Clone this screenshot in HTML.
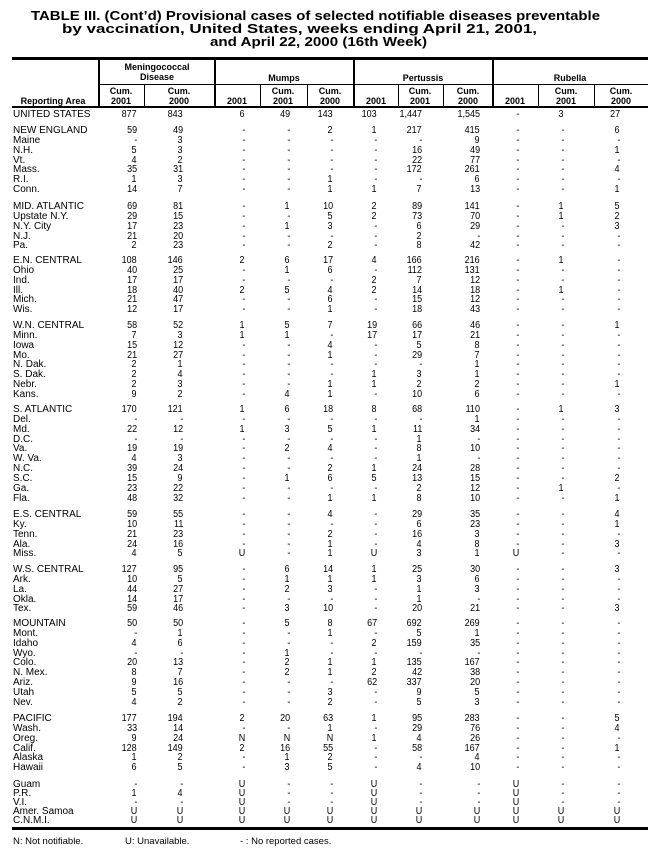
<!DOCTYPE html>
<html><head><meta charset="utf-8"><style>
*{margin:0;padding:0}
body{width:648px;height:851px;background:#fff;position:relative;overflow:hidden;font-family:"Liberation Sans",Arial,sans-serif;color:#000}
.ln{position:absolute;background:#000}
.h{position:absolute;font-weight:bold;font-size:9px;line-height:10px;text-align:center;transform:translateX(-50%);white-space:nowrap}
.r{position:absolute;left:0;width:648px;height:10px;font-size:10px;line-height:10px;white-space:nowrap}
.r span{position:absolute;left:13px;top:0}
.r i{position:absolute;font-style:normal;top:0;display:inline-block;transform:scaleX(0.9);transform-origin:right center}
.r i:nth-of-type(1){right:511px}.r i:nth-of-type(2){right:465px}.r i:nth-of-type(3){right:403px}
.r i:nth-of-type(4){right:358px}.r i:nth-of-type(5){right:315px}.r i:nth-of-type(6){right:271px}
.r i:nth-of-type(7){right:226px}.r i:nth-of-type(8){right:168px}.r i:nth-of-type(9){right:129px}
.r i:nth-of-type(10){right:84px}.r i:nth-of-type(11){right:28px}
.f{position:absolute;top:837px;font-size:9.5px;line-height:10px}
</style></head><body>
<svg width="648" height="56" style="position:absolute;left:0;top:0" font-family="Liberation Sans, Arial, sans-serif" font-weight="bold" font-size="13">
<text x="31" y="20" textLength="569" lengthAdjust="spacingAndGlyphs">TABLE III. (Cont’d) Provisional cases of selected notifiable diseases preventable</text>
<text x="62" y="33" textLength="475" lengthAdjust="spacingAndGlyphs">by vaccination, United States, weeks ending April 21, 2001,</text>
<text x="210" y="46" textLength="217" lengthAdjust="spacingAndGlyphs">and April 22, 2000 (16th Week)</text>
</svg>
<div class="ln" style="left:12px;top:57px;width:636px;height:3px"></div>
<div class="ln" style="left:99px;top:84px;width:549px;height:1px"></div>
<div class="ln" style="left:12px;top:106px;width:636px;height:2px"></div>
<div class="ln" style="left:98px;top:58px;width:2px;height:49px"></div>
<div class="ln" style="left:214px;top:58px;width:2px;height:49px"></div>
<div class="ln" style="left:353px;top:58px;width:2px;height:49px"></div>
<div class="ln" style="left:492px;top:58px;width:2px;height:49px"></div>
<div class="ln" style="left:144px;top:84px;width:1px;height:23px"></div>
<div class="ln" style="left:260px;top:84px;width:1px;height:23px"></div>
<div class="ln" style="left:307px;top:84px;width:1px;height:23px"></div>
<div class="ln" style="left:398px;top:84px;width:1px;height:23px"></div>
<div class="ln" style="left:443px;top:84px;width:1px;height:23px"></div>
<div class="ln" style="left:538px;top:84px;width:1px;height:23px"></div>
<div class="ln" style="left:594px;top:84px;width:1px;height:23px"></div>
<div class="ln" style="left:12px;top:827px;width:636px;height:3px"></div>

<div class="h" style="left:157px;top:62px">Meningococcal<br>Disease</div>
<div class="h" style="left:284px;top:73px">Mumps</div>
<div class="h" style="left:423px;top:73px">Pertussis</div>
<div class="h" style="left:570px;top:73px">Rubella</div>
<div class="h" style="left:53px;top:96px">Reporting Area</div>
<div class="h" style="left:121px;top:86px">Cum.<br>2001</div>
<div class="h" style="left:179px;top:86px">Cum.<br>2000</div>
<div class="h" style="left:237px;top:96px">2001</div>
<div class="h" style="left:283px;top:86px">Cum.<br>2001</div>
<div class="h" style="left:330px;top:86px">Cum.<br>2000</div>
<div class="h" style="left:376px;top:96px">2001</div>
<div class="h" style="left:420px;top:86px">Cum.<br>2001</div>
<div class="h" style="left:468px;top:86px">Cum.<br>2000</div>
<div class="h" style="left:515px;top:96px">2001</div>
<div class="h" style="left:566px;top:86px">Cum.<br>2001</div>
<div class="h" style="left:621px;top:86px">Cum.<br>2000</div>

<div class="r" style="top:110px"><span>UNITED STATES</span><i>877</i><i>843</i><i>6</i><i>49</i><i>143</i><i>103</i><i>1,447</i><i>1,545</i><i>-</i><i>3</i><i>27</i></div>

<div class="r" style="top:126px"><span>NEW ENGLAND</span><i>59</i><i>49</i><i>-</i><i>-</i><i>2</i><i>1</i><i>217</i><i>415</i><i>-</i><i>-</i><i>6</i></div>
<div class="r" style="top:135.9px"><span>Maine</span><i>-</i><i>3</i><i>-</i><i>-</i><i>-</i><i>-</i><i>-</i><i>9</i><i>-</i><i>-</i><i>-</i></div>
<div class="r" style="top:145.7px"><span>N.H.</span><i>5</i><i>3</i><i>-</i><i>-</i><i>-</i><i>-</i><i>16</i><i>49</i><i>-</i><i>-</i><i>1</i></div>
<div class="r" style="top:155.6px"><span>Vt.</span><i>4</i><i>2</i><i>-</i><i>-</i><i>-</i><i>-</i><i>22</i><i>77</i><i>-</i><i>-</i><i>-</i></div>
<div class="r" style="top:165.4px"><span>Mass.</span><i>35</i><i>31</i><i>-</i><i>-</i><i>-</i><i>-</i><i>172</i><i>261</i><i>-</i><i>-</i><i>4</i></div>
<div class="r" style="top:175.3px"><span>R.I.</span><i>1</i><i>3</i><i>-</i><i>-</i><i>1</i><i>-</i><i>-</i><i>6</i><i>-</i><i>-</i><i>-</i></div>
<div class="r" style="top:185.1px"><span>Conn.</span><i>14</i><i>7</i><i>-</i><i>-</i><i>1</i><i>1</i><i>7</i><i>13</i><i>-</i><i>-</i><i>1</i></div>

<div class="r" style="top:202px"><span>MID. ATLANTIC</span><i>69</i><i>81</i><i>-</i><i>1</i><i>10</i><i>2</i><i>89</i><i>141</i><i>-</i><i>1</i><i>5</i></div>
<div class="r" style="top:211.9px"><span>Upstate N.Y.</span><i>29</i><i>15</i><i>-</i><i>-</i><i>5</i><i>2</i><i>73</i><i>70</i><i>-</i><i>1</i><i>2</i></div>
<div class="r" style="top:221.7px"><span>N.Y. City</span><i>17</i><i>23</i><i>-</i><i>1</i><i>3</i><i>-</i><i>6</i><i>29</i><i>-</i><i>-</i><i>3</i></div>
<div class="r" style="top:231.6px"><span>N.J.</span><i>21</i><i>20</i><i>-</i><i>-</i><i>-</i><i>-</i><i>2</i><i>-</i><i>-</i><i>-</i><i>-</i></div>
<div class="r" style="top:241.4px"><span>Pa.</span><i>2</i><i>23</i><i>-</i><i>-</i><i>2</i><i>-</i><i>8</i><i>42</i><i>-</i><i>-</i><i>-</i></div>

<div class="r" style="top:256px"><span>E.N. CENTRAL</span><i>108</i><i>146</i><i>2</i><i>6</i><i>17</i><i>4</i><i>166</i><i>216</i><i>-</i><i>1</i><i>-</i></div>
<div class="r" style="top:265.9px"><span>Ohio</span><i>40</i><i>25</i><i>-</i><i>1</i><i>6</i><i>-</i><i>112</i><i>131</i><i>-</i><i>-</i><i>-</i></div>
<div class="r" style="top:275.7px"><span>Ind.</span><i>17</i><i>17</i><i>-</i><i>-</i><i>-</i><i>2</i><i>7</i><i>12</i><i>-</i><i>-</i><i>-</i></div>
<div class="r" style="top:285.6px"><span>Ill.</span><i>18</i><i>40</i><i>2</i><i>5</i><i>4</i><i>2</i><i>14</i><i>18</i><i>-</i><i>1</i><i>-</i></div>
<div class="r" style="top:295.4px"><span>Mich.</span><i>21</i><i>47</i><i>-</i><i>-</i><i>6</i><i>-</i><i>15</i><i>12</i><i>-</i><i>-</i><i>-</i></div>
<div class="r" style="top:305.3px"><span>Wis.</span><i>12</i><i>17</i><i>-</i><i>-</i><i>1</i><i>-</i><i>18</i><i>43</i><i>-</i><i>-</i><i>-</i></div>

<div class="r" style="top:321px"><span>W.N. CENTRAL</span><i>58</i><i>52</i><i>1</i><i>5</i><i>7</i><i>19</i><i>66</i><i>46</i><i>-</i><i>-</i><i>1</i></div>
<div class="r" style="top:330.9px"><span>Minn.</span><i>7</i><i>3</i><i>1</i><i>1</i><i>-</i><i>17</i><i>17</i><i>21</i><i>-</i><i>-</i><i>-</i></div>
<div class="r" style="top:340.7px"><span>Iowa</span><i>15</i><i>12</i><i>-</i><i>-</i><i>4</i><i>-</i><i>5</i><i>8</i><i>-</i><i>-</i><i>-</i></div>
<div class="r" style="top:350.6px"><span>Mo.</span><i>21</i><i>27</i><i>-</i><i>-</i><i>1</i><i>-</i><i>29</i><i>7</i><i>-</i><i>-</i><i>-</i></div>
<div class="r" style="top:360.4px"><span>N. Dak.</span><i>2</i><i>1</i><i>-</i><i>-</i><i>-</i><i>-</i><i>-</i><i>1</i><i>-</i><i>-</i><i>-</i></div>
<div class="r" style="top:370.3px"><span>S. Dak.</span><i>2</i><i>4</i><i>-</i><i>-</i><i>-</i><i>1</i><i>3</i><i>1</i><i>-</i><i>-</i><i>-</i></div>
<div class="r" style="top:380.1px"><span>Nebr.</span><i>2</i><i>3</i><i>-</i><i>-</i><i>1</i><i>1</i><i>2</i><i>2</i><i>-</i><i>-</i><i>1</i></div>
<div class="r" style="top:390px"><span>Kans.</span><i>9</i><i>2</i><i>-</i><i>4</i><i>1</i><i>-</i><i>10</i><i>6</i><i>-</i><i>-</i><i>-</i></div>

<div class="r" style="top:405px"><span>S. ATLANTIC</span><i>170</i><i>121</i><i>1</i><i>6</i><i>18</i><i>8</i><i>68</i><i>110</i><i>-</i><i>1</i><i>3</i></div>
<div class="r" style="top:414.9px"><span>Del.</span><i>-</i><i>-</i><i>-</i><i>-</i><i>-</i><i>-</i><i>-</i><i>1</i><i>-</i><i>-</i><i>-</i></div>
<div class="r" style="top:424.7px"><span>Md.</span><i>22</i><i>12</i><i>1</i><i>3</i><i>5</i><i>1</i><i>11</i><i>34</i><i>-</i><i>-</i><i>-</i></div>
<div class="r" style="top:434.6px"><span>D.C.</span><i>-</i><i>-</i><i>-</i><i>-</i><i>-</i><i>-</i><i>1</i><i>-</i><i>-</i><i>-</i><i>-</i></div>
<div class="r" style="top:444.4px"><span>Va.</span><i>19</i><i>19</i><i>-</i><i>2</i><i>4</i><i>-</i><i>8</i><i>10</i><i>-</i><i>-</i><i>-</i></div>
<div class="r" style="top:454.3px"><span>W. Va.</span><i>4</i><i>3</i><i>-</i><i>-</i><i>-</i><i>-</i><i>1</i><i>-</i><i>-</i><i>-</i><i>-</i></div>
<div class="r" style="top:464.1px"><span>N.C.</span><i>39</i><i>24</i><i>-</i><i>-</i><i>2</i><i>1</i><i>24</i><i>28</i><i>-</i><i>-</i><i>-</i></div>
<div class="r" style="top:474px"><span>S.C.</span><i>15</i><i>9</i><i>-</i><i>1</i><i>6</i><i>5</i><i>13</i><i>15</i><i>-</i><i>-</i><i>2</i></div>
<div class="r" style="top:483.8px"><span>Ga.</span><i>23</i><i>22</i><i>-</i><i>-</i><i>-</i><i>-</i><i>2</i><i>12</i><i>-</i><i>1</i><i>-</i></div>
<div class="r" style="top:493.7px"><span>Fla.</span><i>48</i><i>32</i><i>-</i><i>-</i><i>1</i><i>1</i><i>8</i><i>10</i><i>-</i><i>-</i><i>1</i></div>

<div class="r" style="top:510px"><span>E.S. CENTRAL</span><i>59</i><i>55</i><i>-</i><i>-</i><i>4</i><i>-</i><i>29</i><i>35</i><i>-</i><i>-</i><i>4</i></div>
<div class="r" style="top:519.9px"><span>Ky.</span><i>10</i><i>11</i><i>-</i><i>-</i><i>-</i><i>-</i><i>6</i><i>23</i><i>-</i><i>-</i><i>1</i></div>
<div class="r" style="top:529.7px"><span>Tenn.</span><i>21</i><i>23</i><i>-</i><i>-</i><i>2</i><i>-</i><i>16</i><i>3</i><i>-</i><i>-</i><i>-</i></div>
<div class="r" style="top:539.6px"><span>Ala.</span><i>24</i><i>16</i><i>-</i><i>-</i><i>1</i><i>-</i><i>4</i><i>8</i><i>-</i><i>-</i><i>3</i></div>
<div class="r" style="top:549.4px"><span>Miss.</span><i>4</i><i>5</i><i>U</i><i>-</i><i>1</i><i>U</i><i>3</i><i>1</i><i>U</i><i>-</i><i>-</i></div>

<div class="r" style="top:565px"><span>W.S. CENTRAL</span><i>127</i><i>95</i><i>-</i><i>6</i><i>14</i><i>1</i><i>25</i><i>30</i><i>-</i><i>-</i><i>3</i></div>
<div class="r" style="top:574.9px"><span>Ark.</span><i>10</i><i>5</i><i>-</i><i>1</i><i>1</i><i>1</i><i>3</i><i>6</i><i>-</i><i>-</i><i>-</i></div>
<div class="r" style="top:584.7px"><span>La.</span><i>44</i><i>27</i><i>-</i><i>2</i><i>3</i><i>-</i><i>1</i><i>3</i><i>-</i><i>-</i><i>-</i></div>
<div class="r" style="top:594.6px"><span>Okla.</span><i>14</i><i>17</i><i>-</i><i>-</i><i>-</i><i>-</i><i>1</i><i>-</i><i>-</i><i>-</i><i>-</i></div>
<div class="r" style="top:604.4px"><span>Tex.</span><i>59</i><i>46</i><i>-</i><i>3</i><i>10</i><i>-</i><i>20</i><i>21</i><i>-</i><i>-</i><i>3</i></div>

<div class="r" style="top:619px"><span>MOUNTAIN</span><i>50</i><i>50</i><i>-</i><i>5</i><i>8</i><i>67</i><i>692</i><i>269</i><i>-</i><i>-</i><i>-</i></div>
<div class="r" style="top:628.9px"><span>Mont.</span><i>-</i><i>1</i><i>-</i><i>-</i><i>1</i><i>-</i><i>5</i><i>1</i><i>-</i><i>-</i><i>-</i></div>
<div class="r" style="top:638.7px"><span>Idaho</span><i>4</i><i>6</i><i>-</i><i>-</i><i>-</i><i>2</i><i>159</i><i>35</i><i>-</i><i>-</i><i>-</i></div>
<div class="r" style="top:648.6px"><span>Wyo.</span><i>-</i><i>-</i><i>-</i><i>1</i><i>-</i><i>-</i><i>-</i><i>-</i><i>-</i><i>-</i><i>-</i></div>
<div class="r" style="top:658.4px"><span>Colo.</span><i>20</i><i>13</i><i>-</i><i>2</i><i>1</i><i>1</i><i>135</i><i>167</i><i>-</i><i>-</i><i>-</i></div>
<div class="r" style="top:668.3px"><span>N. Mex.</span><i>8</i><i>7</i><i>-</i><i>2</i><i>1</i><i>2</i><i>42</i><i>38</i><i>-</i><i>-</i><i>-</i></div>
<div class="r" style="top:678.1px"><span>Ariz.</span><i>9</i><i>16</i><i>-</i><i>-</i><i>-</i><i>62</i><i>337</i><i>20</i><i>-</i><i>-</i><i>-</i></div>
<div class="r" style="top:688px"><span>Utah</span><i>5</i><i>5</i><i>-</i><i>-</i><i>3</i><i>-</i><i>9</i><i>5</i><i>-</i><i>-</i><i>-</i></div>
<div class="r" style="top:697.8px"><span>Nev.</span><i>4</i><i>2</i><i>-</i><i>-</i><i>2</i><i>-</i><i>5</i><i>3</i><i>-</i><i>-</i><i>-</i></div>

<div class="r" style="top:714px"><span>PACIFIC</span><i>177</i><i>194</i><i>2</i><i>20</i><i>63</i><i>1</i><i>95</i><i>283</i><i>-</i><i>-</i><i>5</i></div>
<div class="r" style="top:723.9px"><span>Wash.</span><i>33</i><i>14</i><i>-</i><i>-</i><i>1</i><i>-</i><i>29</i><i>76</i><i>-</i><i>-</i><i>4</i></div>
<div class="r" style="top:733.7px"><span>Oreg.</span><i>9</i><i>24</i><i>N</i><i>N</i><i>N</i><i>1</i><i>4</i><i>26</i><i>-</i><i>-</i><i>-</i></div>
<div class="r" style="top:743.6px"><span>Calif.</span><i>128</i><i>149</i><i>2</i><i>16</i><i>55</i><i>-</i><i>58</i><i>167</i><i>-</i><i>-</i><i>1</i></div>
<div class="r" style="top:753.4px"><span>Alaska</span><i>1</i><i>2</i><i>-</i><i>1</i><i>2</i><i>-</i><i>-</i><i>4</i><i>-</i><i>-</i><i>-</i></div>
<div class="r" style="top:763.3px"><span>Hawaii</span><i>6</i><i>5</i><i>-</i><i>3</i><i>5</i><i>-</i><i>4</i><i>10</i><i>-</i><i>-</i><i>-</i></div>

<div class="r" style="top:780px"><span>Guam</span><i>-</i><i>-</i><i>U</i><i>-</i><i>-</i><i>U</i><i>-</i><i>-</i><i>U</i><i>-</i><i>-</i></div>
<div class="r" style="top:789px"><span>P.R.</span><i>1</i><i>4</i><i>U</i><i>-</i><i>-</i><i>U</i><i>-</i><i>-</i><i>U</i><i>-</i><i>-</i></div>
<div class="r" style="top:798px"><span>V.I.</span><i>-</i><i>-</i><i>U</i><i>-</i><i>-</i><i>U</i><i>-</i><i>-</i><i>U</i><i>-</i><i>-</i></div>
<div class="r" style="top:807px"><span>Amer. Samoa</span><i>U</i><i>U</i><i>U</i><i>U</i><i>U</i><i>U</i><i>U</i><i>U</i><i>U</i><i>U</i><i>U</i></div>
<div class="r" style="top:816px"><span>C.N.M.I.</span><i>U</i><i>U</i><i>U</i><i>U</i><i>U</i><i>U</i><i>U</i><i>U</i><i>U</i><i>U</i><i>U</i></div>

<div class="f" style="left:13px">N: Not notifiable.</div>
<div class="f" style="left:125px">U: Unavailable.</div>
<div class="f" style="left:240px">- : No reported cases.</div>
</body></html>
